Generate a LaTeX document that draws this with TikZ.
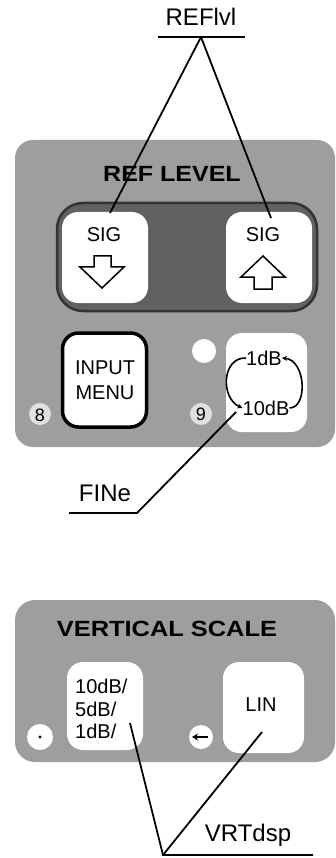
\documentclass[tikz,border=0pt]{standalone}
\usepackage{fontspec}
\setmainfont{Liberation Sans}
\usetikzlibrary{arrows.meta}
\begin{document}
\begin{tikzpicture}[x=1pt,y=-1pt,
  panel/.style={fill=black!38, rounded corners=18pt, inner sep=0pt, outer sep=0pt},
  darkstrip/.style={fill=black!62, draw=black!80, line width=2.5pt, rounded corners=26pt, inner sep=0pt},
  keybox/.style={fill=white, rounded corners=16pt, inner sep=0pt},
  spot/.style={circle, fill=white, inner sep=0pt},
  softspot/.style={circle, fill=black!12, inner sep=0pt},
  lbl/.style={font=\fontsize{24}{28}\selectfont, inner sep=0pt},
  keytxt/.style={font=\fontsize{20}{25}\selectfont, inner sep=0pt, align=center},
  head/.style={font=\fontsize{20}{24}\selectfont\bfseries, inner sep=0pt},
  lead/.style={line width=1.8pt},
  cyc/.style={line width=1.6pt, -{Stealth[length=5pt,width=5pt]}}
]
\useasboundingbox (0,0) rectangle (336,858);

% ---------- top label ----------
\node[lbl] (reflvl) at (201,17) {REFlvl};
\coordinate (refulL) at (158,37);
\coordinate (refulR) at (245,37);
\coordinate (refapex) at (201,37);
\draw[lead] (refulL) -- (refulR);

% ---------- REF LEVEL panel ----------
\node[panel, minimum width=320pt, minimum height=307pt] (refpanel) at (175,293.5) {};
\node[head] (refhead) at (172,174) {\scalebox{1.25}[1.1]{REF LEVEL}};
\node[darkstrip, minimum width=260pt, minimum height=108pt] (strip) at (187,257) {};
\node[keybox, minimum width=86pt, minimum height=91pt] (sigdn) at (105,257.5) {};
\node[keybox, minimum width=86pt, minimum height=91pt] (sigup) at (269,257.5) {};
\node[keytxt] (sigdntxt) at (104,235) {SIG};
\node[keytxt] (siguptxt) at (263,235) {SIG};
\draw[line width=1.5pt, fill=white, line join=miter]
  (94,256) -- (111,256) -- (111,267) -- (124,267) -- (102,288) -- (80,267) -- (94,267) -- cycle;
\draw[line width=1.5pt, fill=white, line join=miter]
  (263,256) -- (285,277) -- (272,277) -- (272,289) -- (254,289) -- (254,277) -- (241,277) -- cycle;

\node[keybox, draw=black, line width=3.5pt, minimum width=84pt, minimum height=94pt] (input) at (104.5,380) {};
\node[keytxt] (inputtxt) at (105,380) {INPUT\\MENU};
\node[softspot, minimum size=22pt] (spot8) at (40,414) {};
\node[keytxt, font=\fontsize{18}{20}\selectfont] (n8) at (40,415) {8};
\node[spot, minimum size=24pt] (spotled) at (204,351) {};
\node[softspot, minimum size=22pt] (spot9) at (201,414) {};
\node[keytxt, font=\fontsize{18}{20}\selectfont] (n9) at (201,414) {9};
\node[keybox, minimum width=81pt, minimum height=99pt] (fine) at (266.5,382.5) {};
\node[keytxt] (db1) at (264,358) {1dB};
\node[keytxt] (db10) at (266,408) {10dB};
\draw[cyc] (db1.west) .. controls (222,357) and (220,398) .. (db10.west);
\draw[cyc] (db10.east) .. controls (308,408) and (306,360) .. (db1.east);

% FINe label
\node[lbl] (finetxt) at (105,493) {FINe};
\coordinate (fineulL) at (69,513);
\coordinate (fineulR) at (137,513);
\coordinate (finetip) at (236,412);
\draw[lead] (fineulL) -- (fineulR) -- (finetip);

% leaders REFlvl
\coordinate (sigdntip) at (110,213);
\coordinate (siguptip) at (271,218);
\draw[lead] (refapex) -- (sigdntip);
\draw[lead] (refapex) -- (siguptip);

% ---------- VERTICAL SCALE panel ----------
\node[panel, minimum width=320pt, minimum height=162pt, rounded corners=20pt] (vspanel) at (175,681) {};
\node[head] (vshead) at (167,629) {\scalebox{1.27}[1.1]{VERTICAL SCALE}};
\node[keybox, minimum width=76pt, minimum height=88pt] (dbkey) at (105,706) {};
\node[keytxt, align=left, anchor=west, font=\fontsize{20}{22.5}\selectfont] (dbtxt) at (75,709) {10dB/\\5dB/\\1dB/};
\node[spot, minimum size=26pt] (spotdot) at (40,737) {};
\fill (spotdot.center) circle (1.6pt);
\node[keybox, minimum width=81pt, minimum height=91pt] (linkey) at (263.5,707.5) {};
\node[keytxt] (lintxt) at (261,705) {LIN};
\node[spot, minimum size=24pt] (spotarr) at (201,737) {};
\draw[line width=2pt, -{Stealth[length=6pt,width=7pt]}] ([xshift=7pt]spotarr.center) -- ([xshift=-9pt]spotarr.center);

% VRTdsp label
\node[lbl] (vrttxt) at (248,835) {VRTdsp};
\coordinate (vapex) at (163,855);
\coordinate (vulR) at (313,855);
\coordinate (dbtip) at (130,723);
\coordinate (lintip) at (262,732);
\draw[lead] (vulR) -- (vapex) -- (dbtip);
\draw[lead] (vapex) -- (lintip);
\end{tikzpicture}
\end{document}
